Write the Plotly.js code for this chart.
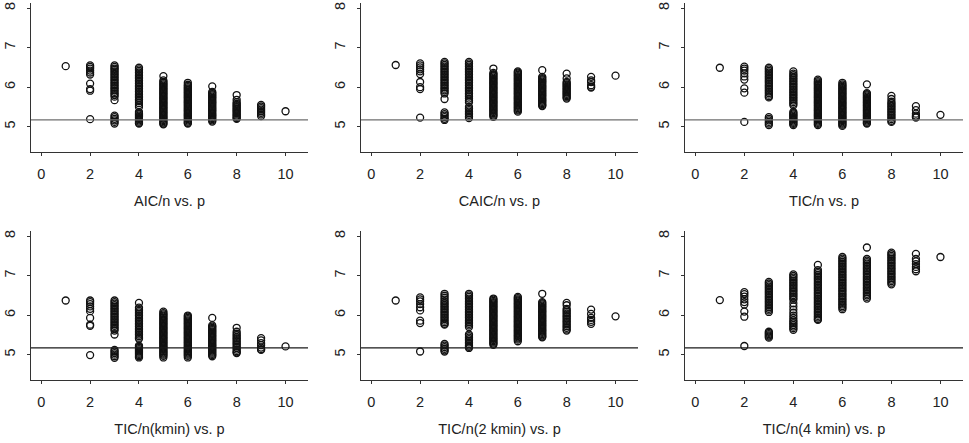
<!DOCTYPE html>
<html>
<head>
<meta charset="utf-8">
<script src="https://cdn.plot.ly/plotly-3.0.1.min.js"></script>
<style>html,body{margin:0;padding:0;background:#fff;}#chart{width:969px;height:443px;}</style>
</head>
<body>
<div id="chart"></div>
<script>
// number of parameters p (x positions)
const pValues = [1, 2, 3, 4, 5, 6, 7, 8, 9, 10];
const xTicks = [0, 2, 4, 6, 8, 10];
const yTicks = [5, 6, 7, 8];
const refLine = 5.17;
const panelTitles = ["AIC/n vs. p", "CAIC/n vs. p", "TIC/n vs. p",
                     "TIC/n(kmin) vs. p", "TIC/n(2 kmin) vs. p", "TIC/n(4 kmin) vs. p"];

// criterion values, one list per p (p = 1..10)
const aicY = [
  [6.53],
  [6.55, 6.51, 6.47, 6.42, 6.37, 6.32, 6.09, 5.95, 5.91, 5.19],
  [6.55, 6.51, 6.47, 6.44, 6.40, 6.36, 6.32, 6.28, 6.24, 6.20, 6.16, 6.12, 6.08, 6.04, 6.00, 5.96, 5.92, 5.88, 5.84, 5.80, 5.76, 5.67, 5.28, 5.24, 5.20, 5.16, 5.12, 5.08],
  [6.49, 6.45, 6.41, 6.37, 6.33, 6.29, 6.25, 6.21, 6.17, 6.13, 6.09, 6.05, 6.01, 5.97, 5.93, 5.89, 5.85, 5.81, 5.77, 5.73, 5.69, 5.65, 5.60, 5.55, 5.50, 5.37, 5.34, 5.31, 5.28, 5.25, 5.22, 5.19, 5.16, 5.13, 5.10, 5.08],
  [6.28, 6.17, 6.13, 6.10, 6.07, 6.04, 6.01, 5.98, 5.95, 5.92, 5.89, 5.86, 5.83, 5.80, 5.77, 5.74, 5.71, 5.68, 5.65, 5.62, 5.59, 5.56, 5.53, 5.50, 5.47, 5.44, 5.41, 5.38, 5.35, 5.32, 5.29, 5.26, 5.23, 5.20, 5.17, 5.14, 5.11, 5.08, 5.06],
  [6.11, 6.06, 6.03, 6.00, 5.97, 5.94, 5.91, 5.88, 5.85, 5.82, 5.79, 5.76, 5.73, 5.70, 5.67, 5.64, 5.61, 5.58, 5.55, 5.52, 5.49, 5.46, 5.43, 5.40, 5.37, 5.34, 5.31, 5.28, 5.25, 5.22, 5.19, 5.16, 5.13, 5.10, 5.08],
  [6.02, 5.88, 5.85, 5.82, 5.79, 5.76, 5.73, 5.70, 5.67, 5.64, 5.61, 5.58, 5.55, 5.52, 5.49, 5.46, 5.43, 5.40, 5.37, 5.34, 5.31, 5.28, 5.25, 5.22, 5.19, 5.16, 5.13],
  [5.80, 5.68, 5.62, 5.58, 5.55, 5.52, 5.49, 5.46, 5.43, 5.40, 5.37, 5.34, 5.31, 5.28, 5.25, 5.22, 5.20],
  [5.55, 5.51, 5.47, 5.43, 5.39, 5.35, 5.31, 5.27],
  [5.39]
];
const caicY = [
  [6.56],
  [6.60, 6.55, 6.50, 6.45, 6.40, 6.33, 6.13, 6.00, 5.95, 5.23],
  [6.64, 6.60, 6.56, 6.52, 6.48, 6.44, 6.40, 6.36, 6.32, 6.28, 6.24, 6.20, 6.16, 6.12, 6.08, 6.04, 6.00, 5.96, 5.92, 5.88, 5.84, 5.70, 5.36, 5.32, 5.28, 5.24, 5.20, 5.17],
  [6.64, 6.60, 6.56, 6.52, 6.48, 6.44, 6.40, 6.36, 6.32, 6.28, 6.24, 6.20, 6.16, 6.12, 6.08, 6.04, 6.00, 5.96, 5.92, 5.88, 5.84, 5.80, 5.76, 5.71, 5.66, 5.62, 5.50, 5.46, 5.42, 5.38, 5.34, 5.30, 5.26, 5.22],
  [6.47, 6.36, 6.33, 6.30, 6.27, 6.24, 6.21, 6.18, 6.15, 6.12, 6.09, 6.06, 6.03, 6.00, 5.97, 5.94, 5.91, 5.88, 5.85, 5.82, 5.79, 5.76, 5.73, 5.70, 5.67, 5.64, 5.61, 5.58, 5.55, 5.52, 5.49, 5.46, 5.43, 5.40, 5.37, 5.34, 5.31, 5.28, 5.25],
  [6.40, 6.37, 6.34, 6.31, 6.28, 6.25, 6.22, 6.19, 6.16, 6.13, 6.10, 6.07, 6.04, 6.01, 5.98, 5.95, 5.92, 5.89, 5.86, 5.83, 5.80, 5.77, 5.74, 5.71, 5.68, 5.65, 5.62, 5.59, 5.56, 5.53, 5.50, 5.47, 5.44, 5.41, 5.38],
  [6.43, 6.26, 6.23, 6.20, 6.17, 6.14, 6.11, 6.08, 6.05, 6.02, 5.99, 5.96, 5.93, 5.90, 5.87, 5.84, 5.81, 5.78, 5.75, 5.72, 5.69, 5.66, 5.63, 5.60, 5.57, 5.54, 5.52],
  [6.34, 6.22, 6.13, 6.10, 6.07, 6.04, 6.01, 5.98, 5.95, 5.92, 5.89, 5.86, 5.83, 5.80, 5.77, 5.74, 5.71],
  [6.26, 6.17, 6.13, 6.05, 6.01, 5.99],
  [6.29]
];
const ticY = [
  [6.49],
  [6.52, 6.47, 6.42, 6.35, 6.27, 6.19, 5.97, 5.86, 5.12],
  [6.49, 6.45, 6.41, 6.37, 6.33, 6.29, 6.25, 6.21, 6.17, 6.13, 6.09, 6.05, 6.01, 5.97, 5.93, 5.89, 5.85, 5.81, 5.77, 5.74, 5.24, 5.20, 5.16, 5.12, 5.08, 5.04],
  [6.40, 6.34, 6.30, 6.26, 6.22, 6.18, 6.14, 6.10, 6.06, 6.02, 5.98, 5.94, 5.90, 5.86, 5.82, 5.78, 5.74, 5.70, 5.66, 5.62, 5.58, 5.54, 5.37, 5.34, 5.31, 5.28, 5.25, 5.22, 5.19, 5.16, 5.13, 5.10, 5.07, 5.04],
  [6.19, 6.15, 6.12, 6.09, 6.06, 6.03, 6.00, 5.97, 5.94, 5.91, 5.88, 5.85, 5.82, 5.79, 5.76, 5.73, 5.70, 5.67, 5.64, 5.61, 5.58, 5.55, 5.52, 5.49, 5.46, 5.43, 5.40, 5.37, 5.34, 5.31, 5.28, 5.25, 5.22, 5.19, 5.16, 5.13, 5.10, 5.07, 5.04],
  [6.11, 6.07, 6.04, 6.01, 5.98, 5.95, 5.92, 5.89, 5.86, 5.83, 5.80, 5.77, 5.74, 5.71, 5.68, 5.65, 5.62, 5.59, 5.56, 5.53, 5.50, 5.47, 5.44, 5.41, 5.38, 5.35, 5.32, 5.29, 5.26, 5.23, 5.20, 5.17, 5.14, 5.11, 5.08, 5.05, 5.02],
  [6.07, 5.85, 5.82, 5.79, 5.76, 5.73, 5.70, 5.67, 5.64, 5.61, 5.58, 5.55, 5.52, 5.49, 5.46, 5.43, 5.40, 5.37, 5.34, 5.31, 5.28, 5.25, 5.22, 5.19, 5.16, 5.13, 5.10, 5.08],
  [5.78, 5.70, 5.63, 5.59, 5.55, 5.51, 5.47, 5.43, 5.39, 5.35, 5.31, 5.27, 5.23, 5.19, 5.15, 5.12],
  [5.52, 5.42, 5.33, 5.28, 5.25, 5.23],
  [5.30]
];
const ticKminY = [
  [6.37],
  [6.37, 6.33, 6.28, 6.22, 6.16, 6.10, 5.93, 5.76, 5.73, 4.99],
  [6.37, 6.33, 6.29, 6.25, 6.21, 6.17, 6.13, 6.09, 6.05, 6.01, 5.97, 5.93, 5.89, 5.85, 5.81, 5.77, 5.73, 5.69, 5.65, 5.61, 5.51, 5.12, 5.08, 5.04, 5.00, 4.96, 4.92],
  [6.31, 6.19, 6.15, 6.11, 6.07, 6.03, 5.99, 5.95, 5.91, 5.87, 5.83, 5.79, 5.75, 5.71, 5.67, 5.63, 5.59, 5.55, 5.51, 5.47, 5.43, 5.40, 5.23, 5.20, 5.17, 5.14, 5.11, 5.08, 5.05, 5.02, 4.99, 4.96, 4.93],
  [6.09, 6.05, 6.02, 5.99, 5.96, 5.93, 5.90, 5.87, 5.84, 5.81, 5.78, 5.75, 5.72, 5.69, 5.66, 5.63, 5.60, 5.57, 5.54, 5.51, 5.48, 5.45, 5.42, 5.39, 5.36, 5.33, 5.30, 5.27, 5.24, 5.21, 5.18, 5.15, 5.12, 5.09, 5.06, 5.03, 5.00, 4.97, 4.93],
  [5.99, 5.96, 5.93, 5.90, 5.87, 5.84, 5.81, 5.78, 5.75, 5.72, 5.69, 5.66, 5.63, 5.60, 5.57, 5.54, 5.51, 5.48, 5.45, 5.42, 5.39, 5.36, 5.33, 5.30, 5.27, 5.24, 5.21, 5.18, 5.15, 5.12, 5.09, 5.06, 5.03, 5.00, 4.97, 4.93],
  [5.93, 5.74, 5.71, 5.68, 5.65, 5.62, 5.59, 5.56, 5.53, 5.50, 5.47, 5.44, 5.41, 5.38, 5.35, 5.32, 5.29, 5.26, 5.23, 5.20, 5.17, 5.14, 5.11, 5.08, 5.05, 5.02, 4.99, 4.96],
  [5.68, 5.58, 5.53, 5.49, 5.45, 5.41, 5.37, 5.33, 5.29, 5.25, 5.21, 5.17, 5.13, 5.09, 5.06, 5.04],
  [5.42, 5.36, 5.29, 5.24, 5.18, 5.14, 5.12],
  [5.21]
];
const tic2KminY = [
  [6.37],
  [6.45, 6.40, 6.35, 6.28, 6.20, 6.12, 5.86, 5.80, 5.08],
  [6.54, 6.49, 6.44, 6.39, 6.34, 6.30, 6.26, 6.22, 6.18, 6.14, 6.10, 6.06, 6.02, 5.98, 5.94, 5.90, 5.86, 5.82, 5.78, 5.76, 5.27, 5.23, 5.19, 5.15, 5.11, 5.08],
  [6.54, 6.50, 6.46, 6.42, 6.38, 6.34, 6.30, 6.26, 6.22, 6.18, 6.14, 6.10, 6.06, 6.02, 5.98, 5.94, 5.90, 5.86, 5.82, 5.78, 5.74, 5.70, 5.51, 5.47, 5.43, 5.39, 5.35, 5.31, 5.27, 5.23, 5.20, 5.17],
  [6.42, 6.39, 6.36, 6.33, 6.30, 6.27, 6.24, 6.21, 6.18, 6.15, 6.12, 6.09, 6.06, 6.03, 6.00, 5.97, 5.94, 5.91, 5.88, 5.85, 5.82, 5.79, 5.76, 5.73, 5.70, 5.67, 5.64, 5.61, 5.58, 5.55, 5.52, 5.49, 5.46, 5.43, 5.40, 5.37, 5.34, 5.31, 5.28, 5.25],
  [6.46, 6.43, 6.40, 6.37, 6.34, 6.31, 6.28, 6.25, 6.22, 6.19, 6.16, 6.13, 6.10, 6.07, 6.04, 6.01, 5.98, 5.95, 5.92, 5.89, 5.86, 5.83, 5.80, 5.77, 5.74, 5.71, 5.68, 5.65, 5.62, 5.59, 5.56, 5.53, 5.50, 5.47, 5.44, 5.41, 5.38, 5.34],
  [6.54, 6.33, 6.30, 6.27, 6.24, 6.21, 6.18, 6.15, 6.12, 6.09, 6.06, 6.03, 6.00, 5.97, 5.94, 5.91, 5.88, 5.85, 5.82, 5.79, 5.76, 5.73, 5.70, 5.67, 5.64, 5.61, 5.58, 5.55, 5.52, 5.49, 5.46, 5.44],
  [6.31, 6.25, 6.16, 6.12, 6.08, 6.04, 6.00, 5.96, 5.92, 5.88, 5.84, 5.80, 5.76, 5.72, 5.68, 5.64, 5.61],
  [6.14, 6.03, 5.93, 5.88, 5.83, 5.78],
  [5.97]
];
const tic4KminY = [
  [6.38],
  [6.58, 6.53, 6.47, 6.40, 6.33, 6.27, 6.09, 5.96, 5.22],
  [6.84, 6.80, 6.76, 6.72, 6.68, 6.64, 6.60, 6.56, 6.52, 6.48, 6.44, 6.40, 6.36, 6.32, 6.28, 6.24, 6.20, 6.16, 6.12, 6.08, 5.58, 5.55, 5.52, 5.49, 5.46, 5.43],
  [7.03, 6.99, 6.95, 6.91, 6.87, 6.83, 6.79, 6.75, 6.71, 6.67, 6.63, 6.59, 6.55, 6.51, 6.47, 6.43, 6.39, 6.30, 6.22, 6.14, 6.06, 5.99, 5.93, 5.87, 5.83, 5.79, 5.75, 5.71, 5.67, 5.63],
  [7.27, 7.14, 7.10, 7.06, 7.02, 6.98, 6.94, 6.90, 6.86, 6.82, 6.78, 6.74, 6.70, 6.66, 6.62, 6.58, 6.54, 6.50, 6.46, 6.42, 6.38, 6.34, 6.30, 6.26, 6.22, 6.18, 6.14, 6.10, 6.06, 6.02, 5.98, 5.94, 5.90, 5.88],
  [7.47, 7.43, 7.39, 7.35, 7.31, 7.27, 7.23, 7.19, 7.15, 7.11, 7.07, 7.03, 6.99, 6.95, 6.91, 6.87, 6.83, 6.79, 6.75, 6.71, 6.67, 6.63, 6.59, 6.55, 6.51, 6.47, 6.43, 6.39, 6.35, 6.31, 6.27, 6.23, 6.19, 6.15],
  [7.71, 7.42, 7.38, 7.34, 7.30, 7.26, 7.22, 7.18, 7.14, 7.10, 7.06, 7.02, 6.98, 6.94, 6.90, 6.86, 6.82, 6.78, 6.74, 6.70, 6.66, 6.62, 6.58, 6.54, 6.50, 6.46, 6.42],
  [7.58, 7.54, 7.50, 7.46, 7.42, 7.38, 7.34, 7.30, 7.26, 7.22, 7.18, 7.14, 7.10, 7.06, 7.02, 6.98, 6.94, 6.90, 6.86, 6.82, 6.78],
  [7.55, 7.42, 7.36, 7.29, 7.22, 7.16, 7.11],
  [7.47]
];

const panels = [aicY, caicY, ticY, ticKminY, tic2KminY, tic4KminY];

// ---------- layout geometry (pixels) ----------
const W = 969, H = 443;
const colPx = [[31, 308], [361, 638], [685, 963]];
const rowPx = [[2.5, 152], [230.5, 380]];
const lineColors = ["#6e6e6e", "#1a1a1a"];
const FONT = "Liberation Sans, Arial, Helvetica, sans-serif";

const traces = [];
const layout = {
  width: W, height: H,
  margin: {l: 0, r: 0, t: 0, b: 0, pad: 0},
  paper_bgcolor: "#ffffff", plot_bgcolor: "#ffffff",
  showlegend: false,
  font: {family: FONT, size: 14.5, color: "#222"},
  shapes: []
};

panels.forEach((vals, i) => {
  const xs = [], ys = [];
  vals.forEach((col, j) => col.forEach(v => { xs.push(pValues[j]); ys.push(v); }));
  const n = i + 1;
  const sfx = n === 1 ? "" : String(n);
  traces.push({
    type: "scatter", mode: "markers", x: xs, y: ys,
    xaxis: "x" + sfx, yaxis: "y" + sfx,
    marker: {symbol: "circle-open", size: 7, color: "#111", line: {width: 1.3, color: "#111"}},
    hoverinfo: "skip"
  });
  const c = colPx[i % 3], r = rowPx[Math.floor(i / 3)];
  layout["xaxis" + sfx] = {
    domain: [c[0] / W, c[1] / W],
    range: [-0.42, 10.92], anchor: "y" + sfx,
    tickvals: xTicks, ticktext: xTicks.map(String),
    ticks: "outside", ticklen: 3, tickwidth: 1, tickcolor: "#333",
    showline: true, linecolor: "#333", linewidth: 1, mirror: false,
    showgrid: false, zeroline: false, ticklabelstandoff: 6,
    tickfont: {family: FONT, size: 14.5, color: "#222"},
    title: {text: panelTitles[i], font: {family: FONT, size: 14.5, color: "#222"}, standoff: 14}
  };
  layout["yaxis" + sfx] = {
    domain: [1 - r[1] / H, 1 - r[0] / H],
    range: [4.36, 8.14], anchor: "x" + sfx,
    tickvals: yTicks, ticktext: yTicks.map(String),
    ticks: "outside", ticklen: 3, tickwidth: 1, tickcolor: "#333",
    showline: true, linecolor: "#333", linewidth: 1, mirror: false,
    showgrid: false, zeroline: false, tickangle: -90, ticklabelstandoff: 6,
    tickfont: {family: FONT, size: 14.5, color: "#222"}
  };
  layout.shapes.push({
    type: "line", xref: "x" + sfx + " domain", yref: "y" + sfx,
    x0: 0, x1: 1, y0: refLine, y1: refLine,
    line: {color: lineColors[Math.floor(i / 3)], width: 1.2}
  });
});

Plotly.newPlot("chart", traces, layout, {displayModeBar: false, staticPlot: true});
</script>
</body>
</html>
